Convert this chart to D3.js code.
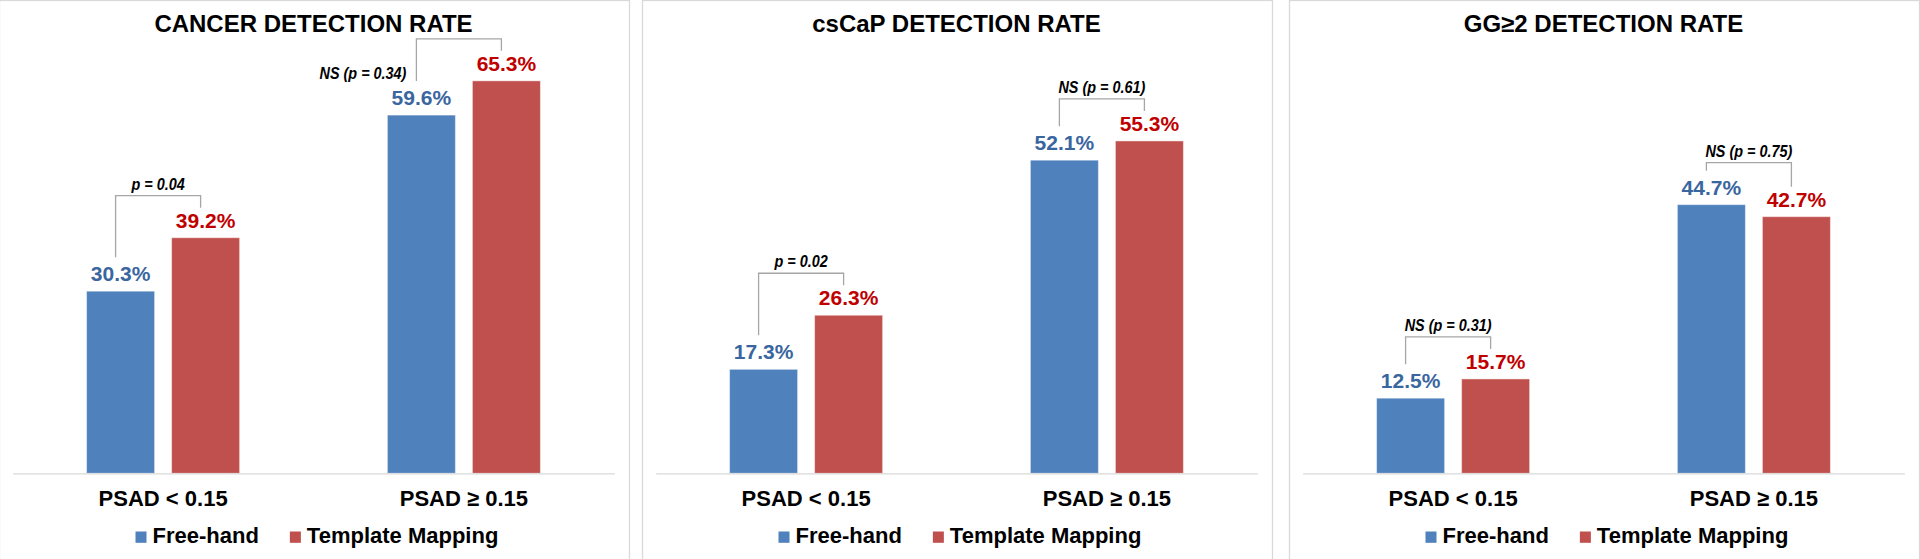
<!DOCTYPE html>
<html>
<head>
<meta charset="utf-8">
<script src="https://cdn.jsdelivr.net/npm/d3@7"></script>
<style>
  html, body { margin: 0; padding: 0; background: #ffffff; }
  svg { display: block; font-family: "Liberation Sans", Arial, sans-serif; }
</style>
</head>
<body>
<svg id="chart" width="1920" height="559"></svg>
<script>
// ---------------- DATA ----------------
const titles = ["CANCER DETECTION RATE", "csCaP DETECTION RATE", "GG\u22652 DETECTION RATE"];
const categories = ["PSAD < 0.15", "PSAD \u2265 0.15"];
const seriesNames = ["Free-hand", "Template Mapping"];
const freeHand = [[30.3, 59.6], [17.3, 52.1], [12.5, 44.7]];
const templateMapping = [[39.2, 65.3], [26.3, 55.3], [15.7, 42.7]];
const pLabels = [
  ["p = 0.04", "NS (p = 0.34)"],
  ["p = 0.02", "NS (p = 0.61)"],
  ["NS (p = 0.31)", "NS (p = 0.75)"]
];

// ---------------- LAYOUT / STYLE ----------------
const W = 1920, H = 559;
const panelOrigins = [0, 643, 1290];
const panelWidth = 630;
const plotLeft = 12.7, plotRight = 614.3;
const axisY = 473.3, topY = 52.6;
const colors = { "Free-hand": "#4F81BD", "Template Mapping": "#C0504D" };
const labelColors = { "Free-hand": "#3A66A0", "Template Mapping": "#C00000" };
const frameColor = "#D9D9D9";
const bracketColor = "#A6A6A6";

const svg = d3.select("#chart");
svg.append("rect").attr("width", W).attr("height", H).attr("fill", "#fff");

const y = d3.scaleLinear().domain([0, 70]).range([axisY, topY]);
const x0 = d3.scaleBand().domain(categories).range([plotLeft, plotRight]).padding(0);
const x1 = d3.scaleBand().domain(seriesNames).range([0, x0.bandwidth()])
  .paddingInner(0.2).paddingOuter(0.869);

titles.forEach((title, pi) => {
  const g = svg.append("g").attr("transform", `translate(${panelOrigins[pi]},0)`);

  // frame
  g.append("rect")
    .attr("x", -0.5).attr("y", 0.5)
    .attr("width", panelWidth).attr("height", H + 20)
    .attr("fill", "none").attr("stroke", frameColor).attr("stroke-width", 1.3);

  // title
  g.append("text")
    .attr("x", (plotLeft + plotRight) / 2).attr("y", 32.3)
    .attr("text-anchor", "middle")
    .attr("font-size", 24).attr("font-weight", "bold").attr("fill", "#000")
    .text(title);

  // rows
  const rows = categories.map((c, ci) => ({
    cat: c,
    values: [
      { s: seriesNames[0], v: freeHand[pi][ci] },
      { s: seriesNames[1], v: templateMapping[pi][ci] }
    ]
  }));

  const groups = g.selectAll("g.grp").data(rows).join("g")
    .attr("class", "grp")
    .attr("transform", d => `translate(${x0(d.cat)},0)`);

  groups.selectAll("rect.bar").data(d => d.values).join("rect")
    .attr("class", "bar")
    .attr("x", d => x1(d.s))
    .attr("y", d => y(d.v))
    .attr("width", x1.bandwidth())
    .attr("height", d => y(0) - y(d.v))
    .attr("fill", d => colors[d.s])
    .attr("stroke", "rgba(255,255,255,0.45)")
    .attr("stroke-width", 1);

  groups.selectAll("text.val").data(d => d.values).join("text")
    .attr("class", "val")
    .attr("x", d => x1(d.s) + x1.bandwidth() / 2)
    .attr("y", d => y(d.v) - 10)
    .attr("text-anchor", "middle")
    .attr("font-size", 21).attr("font-weight", "bold")
    .attr("fill", d => labelColors[d.s])
    .text(d => d.v.toFixed(1) + "%");

  // axis
  const axis = d3.axisBottom(x0).tickSize(0).tickSizeOuter(0).tickPadding(17);
  const ag = g.append("g").attr("transform", `translate(0,${y(0)})`).call(axis);
  ag.select(".domain").attr("stroke", frameColor).attr("stroke-width", 1.3);
  ag.selectAll(".tick text")
    .attr("font-size", 22).attr("font-weight", "bold").attr("fill", "#000")
    .attr("font-family", "'Liberation Sans', Arial, sans-serif");

  // brackets
  rows.forEach((row, ci) => {
    const bx = x0(row.cat);
    const vB = row.values[0].v, vR = row.values[1].v;
    const xl = bx + x1(seriesNames[0]) + x1.bandwidth() / 2 - 5;
    const xr = bx + x1(seriesNames[1]) + x1.bandwidth() / 2 - 5;
    const top = y(Math.max(vB, vR)) - 42;
    const lb = y(vB) - 34;
    const rb = y(vR) - 30;
    g.append("path")
      .attr("d", `M${xl},${lb}V${top}H${xr}V${rb}`)
      .attr("fill", "none").attr("stroke", bracketColor).attr("stroke-width", 1.3);

    const t = g.append("text")
      .attr("font-size", 16).attr("font-weight", "bold").attr("font-style", "italic")
      .attr("fill", "#000")
      .text(pLabels[pi][ci]);
    const len = t.node().getComputedTextLength();
    t.attr("textLength", len * 0.9).attr("lengthAdjust", "spacingAndGlyphs");
    if (top - 6 - 12 < 50) {
      t.attr("x", xl - 10).attr("y", lb - 2).attr("text-anchor", "end");
    } else {
      t.attr("x", (xl + xr) / 2).attr("y", top - 6).attr("text-anchor", "middle");
    }
  });

  // legend
  const lg = g.append("g").attr("transform", "translate(135.5,0)");
  let cx = 0;
  seriesNames.forEach((s, si) => {
    lg.append("rect").attr("x", cx).attr("y", 531.5).attr("width", 11).attr("height", 11.3)
      .attr("fill", colors[s]);
    const tt = lg.append("text").attr("x", cx + 17).attr("y", 542.7)
      .attr("font-size", 22).attr("font-weight", "bold").attr("fill", "#000").text(s);
    cx += 17 + tt.node().getComputedTextLength() + 31;
  });
});
</script>
</body>
</html>
